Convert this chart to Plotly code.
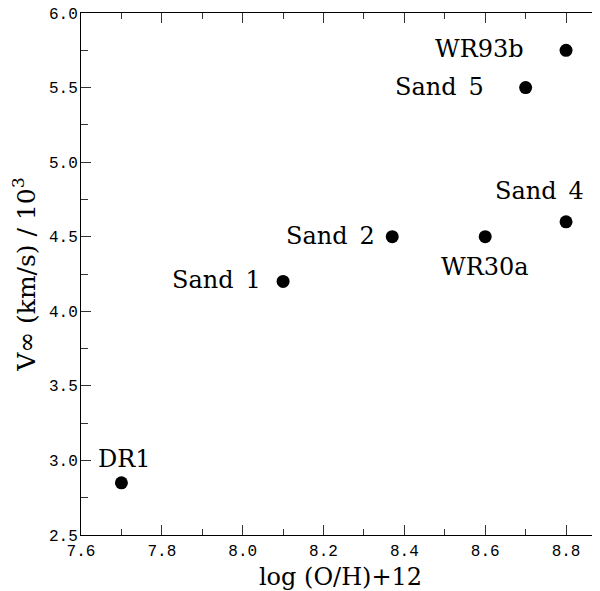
import plotly.graph_objects as go

# Data
names = ["DR1", "Sand 1", "Sand 2", "WR30a", "Sand 4", "Sand 5", "WR93b"]
log_oh = [7.70, 8.10, 8.37, 8.60, 8.80, 8.70, 8.80]
vinf = [2.85, 4.20, 4.50, 4.50, 4.60, 5.50, 5.75]

x_tickvals = [7.6, 7.8, 8.0, 8.2, 8.4, 8.6, 8.8]
y_tickvals = [2.5, 3.0, 3.5, 4.0, 4.5, 5.0, 5.5, 6.0]

# Label placement style (anchor, pixel shifts) per point
label_style = {
    "DR1": dict(xanchor="center", xshift=3, yshift=24),
    "Sand 1": dict(xanchor="right", xshift=-20, yshift=1),
    "Sand 2": dict(xanchor="right", xshift=-15, yshift=1),
    "WR30a": dict(xanchor="center", xshift=0, yshift=-30),
    "Sand 4": dict(xanchor="center", xshift=-27, yshift=31),
    "Sand 5": dict(xanchor="right", xshift=-40, yshift=1),
    "WR93b": dict(xanchor="right", xshift=-40, yshift=1),
}

label_font = dict(family="DejaVu Serif", size=24, color="black")
title_font = dict(family="DejaVu Serif", size=25, color="black")
tick_font = dict(family="Liberation Mono", size=16, color="black")

fig = go.Figure()
fig.add_trace(go.Scatter(
    x=log_oh, y=vinf, mode="markers",
    marker=dict(color="black", size=13, line=dict(width=0)),
    showlegend=False, hoverinfo="skip",
))

annotations = []
for n, xv, yv in zip(names, log_oh, vinf):
    st = label_style[n]
    annotations.append(dict(
        x=xv, y=yv, xref="x", yref="y", text=n.replace(" ", "\u2002"),
        showarrow=False, font=label_font, yanchor="middle", **st,
    ))

# the page adds an 8px body margin, so the figure is sized to fit the window
fig.update_layout(
    width=592, height=583,
    margin=dict(l=73, r=0, t=5, b=56),
    paper_bgcolor="white", plot_bgcolor="white",
    annotations=annotations,
    xaxis=dict(
        range=[7.6, 8.884], automargin=False,
        tickvals=x_tickvals, tickformat=".1f",
        ticks="inside", ticklen=10, tickwidth=1, tickcolor="#333",
        minor=dict(dtick=0.1, tick0=7.6, ticks="inside", ticklen=6, tickcolor="#333", tickwidth=1),
        showline=True, linecolor="black", linewidth=1, mirror="ticks",
        showgrid=False, zeroline=False,
        tickfont=tick_font, ticklabelstandoff=1, ticklabeloverflow="allow",
        title=dict(text="log (O/H)+12", font=label_font, standoff=9),
    ),
    yaxis=dict(
        range=[2.5, 6.0], automargin=False,
        tickvals=y_tickvals, tickformat=".1f",
        ticks="inside", ticklen=10, tickwidth=1, tickcolor="#333",
        minor=dict(dtick=0.25, tick0=2.5, ticks="inside", ticklen=7, tickcolor="#333", tickwidth=1),
        showline=True, linecolor="black", linewidth=1, mirror=False,
        showgrid=False, zeroline=False,
        tickfont=tick_font, ticklabelstandoff=-1, ticklabeloverflow="allow",
        title=dict(text="V\u221e (km/s) / 10<sup>3</sup>", font=title_font, standoff=6),
    ),
    yaxis2=dict(
        overlaying="y", side="right", anchor="free", position=1,
        range=[2.5, 6.0], tickvals=y_tickvals, automargin=False,
        ticks="inside", ticklen=4, tickwidth=1, tickcolor="#333",
        minor=dict(dtick=0.25, tick0=2.5, ticks="inside", ticklen=1, tickcolor="#333", tickwidth=1),
        showline=False, showticklabels=False, showgrid=False, zeroline=False,
    ),
)

fig.write_html("out.html")
